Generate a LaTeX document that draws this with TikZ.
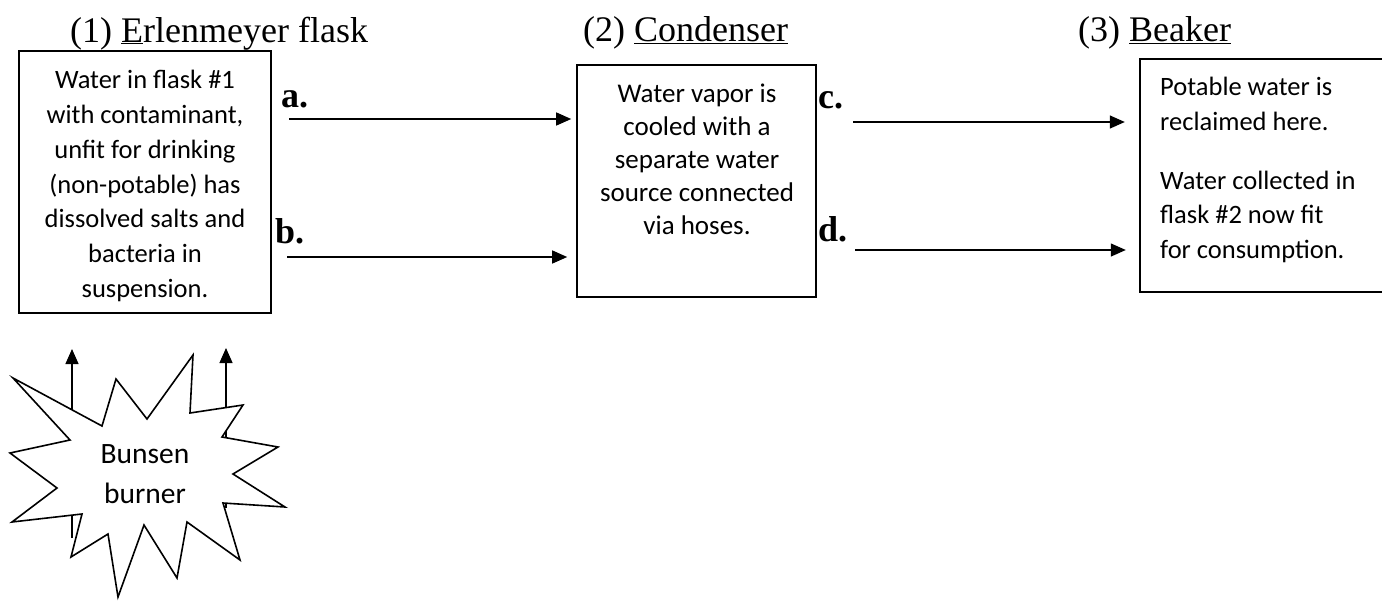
\documentclass[tikz,border=0pt]{standalone}
\usepackage{fontspec}
\setmainfont{Liberation Serif}
\newfontfamily\bodyfont{Carlito}
\usetikzlibrary{arrows.meta}

\tikzset{
  box/.style={draw, line width=1.6pt, rectangle, inner sep=0pt},
  openbox/.style={rectangle, inner sep=0pt},
  boxtext/.style={font=\bodyfont\fontsize{26.5}{34.7}\selectfont, inner sep=0pt},
  title/.style={font=\fontsize{36}{40}\selectfont, anchor=base west, inner sep=0pt},
  tag/.style={font=\bfseries\fontsize{36}{40}\selectfont, anchor=base west, inner sep=0pt},
  flow/.style={line width=1.3pt, -{Triangle[length=15pt,width=13pt]}},
}

\begin{document}
\begin{tikzpicture}[x=1pt, y=-1pt]
\useasboundingbox (0,0) rectangle (1382,603);

% stage titles
\node[title] (t1) at (70,42) {(1) \underline{E}rlenmeyer flask};
\node[title] (t2) at (583,41) {(2) \underline{Condenser}};
\node[title] (t3) at (1078,41) {(3) \underline{Beaker}};

% stage boxes
\node[box, minimum width=252pt, minimum height=262pt] (flask) at (145,182) {};
\node[boxtext, align=center] (flasktxt) at (145,186) {Water in flask \#1\\with contaminant,\\unfit for drinking\\(non-potable) has\\dissolved salts and\\bacteria in\\suspension.};

\node[box, minimum width=239pt, minimum height=232pt] (cond) at (696.5,181) {};
\node[boxtext, align=center, font=\bodyfont\fontsize{27}{33}\selectfont] (condtxt) at (697,159) {Water vapor is\\cooled with a\\separate water\\source connected\\via hoses.};

% the beaker box is open on the right, where the page ends
\node[openbox, minimum width=242pt, minimum height=233pt] (beak) at (1261,175.5) {};
\draw[line width=1.6pt, line cap=butt] (beak.north east) -- (beak.north west) -- (beak.south west) -- (beak.south east);
\node[boxtext, align=left, anchor=north west] (beaktxt) at (1160,77) {Potable water is\\reclaimed here.\\[24pt]Water collected in\\flask \#2 now fit\\for consumption.};

% connector labels
\node[tag] (la) at (281,107) {a.};
\node[tag] (lb) at (275,243) {b.};
\node[tag] (lc) at (818,108) {c.};
\node[tag] (ld) at (818,241) {d.};

% connectors
\coordinate (a0) at (289,119);
\coordinate (b0) at (287,257);
\coordinate (c0) at (853,122);
\coordinate (d0) at (855,250);
\draw[flow] (a0) -- ([xshift=-5pt]cond.west |- a0);
\draw[flow] (b0) -- ([xshift=-9pt]cond.west |- b0);
\draw[flow] (c0) -- ([xshift=-15pt]beak.west |- c0);
\draw[flow] (d0) -- ([xshift=-14pt]beak.west |- d0);

% heat rising from the burner
\coordinate (h1) at (72,538);
\coordinate (h2) at (226,508);
\coordinate (h1e) at (72,349);
\coordinate (h2e) at (226,348);
\draw[flow] (h1) -- (h1e);
\draw[flow] (h2) -- (h2e);

% burner flame
\draw[line width=1.6pt, fill=white, line join=miter]
  (13,378) -- (102,426) -- (116,379) -- (147,419) -- (193,355) -- (190,413)
  -- (243,405) -- (222,437) -- (278,447) -- (233,474) -- (285,507) -- (223,503)
  -- (240,560) -- (187,522) -- (177,578) -- (144,525) -- (118,597) -- (108,534)
  -- (71,557) -- (82,514) -- (12,522) -- (57,488) -- (10,453) -- (70,440) -- cycle;
\node[boxtext, align=center, font=\bodyfont\fontsize{29.5}{40}\selectfont] (burner) at (145,474) {Bunsen\\burner};
\end{tikzpicture}
\end{document}
